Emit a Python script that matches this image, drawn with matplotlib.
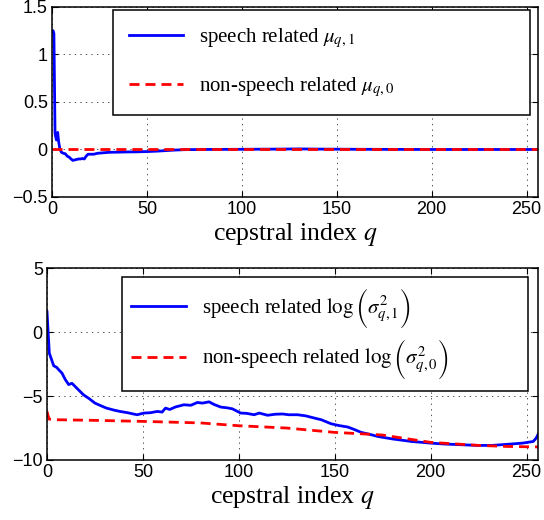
import matplotlib
matplotlib.use("Agg")
import matplotlib.pyplot as plt

# ---- data ----
q_mu1 = [0, 0.6, 1.0, 1.6, 2.3, 2.6, 3.0, 3.5, 4.2, 5, 6, 7, 8, 9, 10, 11, 12, 13, 14, 15, 16, 17,
         18, 19, 20, 22, 24, 27, 30, 35, 40, 45, 50, 55, 60, 65, 70, 80, 100, 120, 130, 140, 160, 200, 256]
mu1 = [1.24, 1.25, 1.22, 0.17, 0.10, 0.12, 0.18, 0.08, 0.0, -0.03, -0.04, -0.045, -0.07, -0.08, -0.10,
       -0.115, -0.11, -0.105, -0.10, -0.10, -0.095, -0.10, -0.07, -0.05, -0.05, -0.05, -0.04, -0.035,
       -0.03, -0.028, -0.026, -0.025, -0.022, -0.018, -0.012, -0.006, -0.002, 0.0, 0.002, 0.004, 0.006,
       0.004, 0.002, 0.0, 0.0]
q_mu0 = [0, 256]
mu0 = [0.0, 0.0]

q_var1 = [0, 1.2, 2.5, 3.5, 5, 6.5, 7.8, 9.5, 11.3, 13, 15, 17, 19, 22, 25, 28, 31, 35, 38, 42, 45, 47,
          50.5, 54, 57.5, 60, 61.8, 64, 67, 71.4, 75, 78.4, 81, 84.5, 87, 90.6, 94, 96.7, 101, 104, 108,
          110.6, 113, 115, 119, 122.8, 126, 130.7, 135, 139.4, 143, 148, 152, 156.8, 160, 163.8, 169,
          172.5, 180, 190, 200, 207, 215, 224.8, 232, 242, 248, 253.5, 255, 256]
var1 = [1.6, -1.64, -2.2, -2.63, -2.75, -3.0, -3.2, -3.7, -4.1, -4.0, -4.3, -4.6, -4.9, -5.2, -5.55,
        -5.75, -5.94, -6.1, -6.2, -6.3, -6.4, -6.46, -6.33, -6.3, -6.2, -6.25, -5.94, -6.05, -5.85,
        -5.68, -5.72, -5.5, -5.55, -5.45, -5.65, -5.86, -5.92, -6.0, -6.33, -6.35, -6.46, -6.33, -6.42,
        -6.5, -6.42, -6.4, -6.46, -6.46, -6.55, -6.72, -6.85, -7.16, -7.3, -7.42, -7.6, -7.84, -8.02,
        -8.16, -8.35, -8.55, -8.68, -8.75, -8.8, -8.86, -8.86, -8.75, -8.68, -8.55, -8.3, -8.0]
q_var0 = [0, 1, 5, 25, 50, 80, 100, 125, 150, 170, 175, 200, 225, 240, 256]
var0 = [-6.2, -6.8, -6.85, -6.9, -6.98, -7.1, -7.32, -7.5, -7.84, -8.0, -8.05, -8.62, -8.86, -8.94, -8.98]

xticks = [0, 50, 100, 150, 200, 250]
yticks_top = [-0.5, 0, 0.5, 1, 1.5]
yticks_bot = [-10, -5, 0, 5]

xlabel_text = r"cepstral index $q$"
labels_top = [r"speech related $\mu_{q,1}$", r"non-speech related $\mu_{q,0}$"]
labels_bot = [r"speech related $\log\left(\overset{\,}{\underset{\,}{\overset{\,}{\underset{\,}{\sigma^2_{q,1}}}}}\right)$",
              r"non-speech related $\log\left(\overset{\,}{\underset{\,}{\overset{\,}{\underset{\,}{\sigma^2_{q,0}}}}}\right)$"]

# ---- style ----
plt.rcParams["mathtext.fontset"] = "stix"
plt.rcParams["lines.scale_dashes"] = False
plt.rcParams["font.family"] = ["Liberation Sans", "DejaVu Sans"]

fig = plt.figure(figsize=(5.44, 5.2), dpi=100)
ax1 = fig.add_axes([0.0956, 0.6212, 0.8934, 0.3654])
ax2 = fig.add_axes([0.0864, 0.1154, 0.9026, 0.3687])

serif = ["Liberation Serif", "DejaVu Serif"]


def style(ax, yticks, ylim):
    ax.set_xlim(0, 256)
    ax.set_ylim(*ylim)
    ax.set_xticks(xticks)
    ax.set_yticks(yticks)
    ax.set_yticklabels([("%g" % t).replace("-", "\u2212") for t in yticks])
    ax.tick_params(direction="in", length=4, width=0.8, top=True, right=True, labelsize=13, pad=3)
    ax.grid(True, linestyle=(0, (1, 3)), color="#555555", linewidth=0.7)
    for s in ax.spines.values():
        s.set_linewidth(1.1)
    ax.set_xlabel(xlabel_text, fontsize=18.5, family=serif, labelpad=2)


ax1.plot(q_mu1, mu1, color="#0000ff", lw=2, label=labels_top[0])
ax1.plot(q_mu0, mu0, color="#ff0000", lw=2, dashes=(7.2, 4.3), label=labels_top[1])
style(ax1, yticks_top, (-0.5, 1.5))
leg1 = ax1.legend(loc="upper left", bbox_to_anchor=(0.1255, 0.4316, 0.858, 0.5524), mode="expand",
                  prop={"family": serif, "size": 15}, frameon=True, fancybox=False, edgecolor="black",
                  framealpha=1, handlelength=2.6, handletextpad=0.8, labelspacing=1.25, borderpad=0.75,
                  borderaxespad=0)
leg1.get_frame().set_linewidth(1.1)

ax2.plot(q_var1, var1, color="#0000ff", lw=2, label=labels_bot[0])
ax2.plot(q_var0, var0, color="#ff0000", lw=2, dashes=(7.2, 4.3), label=labels_bot[1])
style(ax2, yticks_bot, (-10, 5))
leg2 = ax2.legend(loc="upper left", bbox_to_anchor=(0.1527, 0.3756, 0.8269, 0.579), mode="expand",
                  prop={"family": serif, "size": 15}, frameon=True, fancybox=False, edgecolor="black",
                  framealpha=1, handlelength=2.6, handletextpad=0.8, labelspacing=0.35, borderpad=0.45,
                  borderaxespad=0)
leg2.get_frame().set_linewidth(1.1)

fig.savefig("out.png", dpi=100)
